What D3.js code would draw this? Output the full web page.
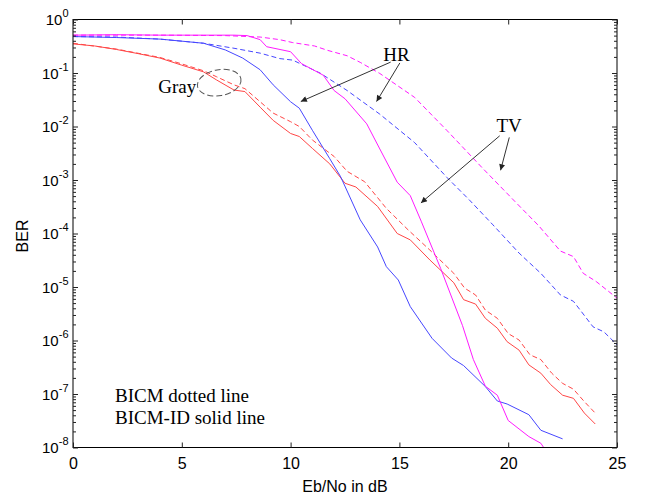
<!DOCTYPE html>
<html>
<head>
<meta charset="utf-8">
<script src="https://cdn.jsdelivr.net/npm/d3@7"></script>
<style>
  body { margin: 0; background: #fff; }
  svg { display: block; }
</style>
</head>
<body>
<div id="chart"></div>
<script>
// Eb/No (dB) and BER
const ebnoGrayId = [0, 1, 2, 3, 4, 5, 6, 6.6, 7.4, 7.9, 8.6, 9.2, 10, 10.4, 11, 11.8, 12.5, 13, 14, 14.9, 15.5, 16.4, 17.5, 17.95, 18.5, 18.95, 19.5, 19.95, 20.5, 20.95, 21.5, 21.95, 22.5, 23, 23.5, 24];
const berGrayId  = [0.35, 0.32, 0.275, 0.23, 0.19, 0.14, 0.105, 0.074, 0.048, 0.045, 0.023, 0.013, 0.0074, 0.0065, 0.0039, 0.002, 8.7e-4, 7.4e-4, 3.2e-4, 1e-4, 7.6e-5, 3.2e-5, 1.2e-5, 5.8e-6, 4.8e-6, 2.6e-6, 1.7e-6, 9.5e-7, 6.6e-7, 3.5e-7, 2.45e-7, 1.5e-7, 9.5e-8, 8.3e-8, 4.4e-8, 2.75e-8];

const ebnoGray = [0, 2, 4, 5, 6, 6.6, 7.4, 7.9, 8.6, 9.2, 10, 10.4, 11, 12, 12.6, 13.4, 14.4, 15.4, 16.4, 17.5, 18, 18.5, 18.95, 19.5, 20, 20.5, 21, 21.5, 22, 22.5, 23, 23.5, 24];
const berGray  = [0.36, 0.28, 0.195, 0.148, 0.11, 0.085, 0.06, 0.051, 0.029, 0.0178, 0.0123, 0.01, 0.0056, 0.00275, 0.00145, 9.3e-4, 2.95e-4, 1.17e-4, 4.9e-5, 1.8e-5, 9.5e-6, 7.1e-6, 3.7e-6, 2.6e-6, 1.35e-6, 1.02e-6, 5.4e-7, 4.4e-7, 2.45e-7, 1.58e-7, 1.23e-7, 7.2e-8, 4.4e-8];

const ebnoHrId = [0, 2, 4, 6, 7, 7.8, 8.6, 9.2, 10, 10.4, 11, 11.8, 12.3, 13.2, 14, 14.4, 14.95, 15.5, 16.5, 17.4, 17.95, 18.95, 19.5, 19.95, 20.95, 21.5, 22.5];
const berHrId  = [0.48, 0.46, 0.43, 0.36, 0.27, 0.19, 0.115, 0.06, 0.029, 0.022, 0.0085, 0.0025, 0.00115, 1.8e-4, 5.6e-5, 2.4e-5, 1.35e-5, 4.3e-6, 1.1e-6, 4.7e-7, 3.4e-7, 1.38e-7, 7.4e-8, 6.5e-8, 4.1e-8, 2.1e-8, 1.45e-8];

const ebnoHr = [0, 2, 4, 6, 7.4, 8.6, 9.5, 10.1, 11.35, 12.6, 14.1, 15.7, 17.2, 18.2, 19.3, 20.5, 21.5, 22.4, 23, 23.9, 24.4, 25];
const berHr  = [0.48, 0.47, 0.43, 0.36, 0.29, 0.235, 0.186, 0.174, 0.1, 0.047, 0.017, 0.005, 0.0011, 4.3e-4, 1.45e-4, 4.3e-5, 1.8e-5, 7.1e-6, 5.4e-6, 1.8e-6, 1.45e-6, 8.3e-7];

const ebnoTvId = [0, 2, 4, 6, 7.4, 8, 8.6, 8.9, 10, 10.5, 11.5, 12, 12.5, 13.5, 14.1, 14.9, 15.5, 16, 16.9, 17.9, 18.4, 18.95, 19.5, 20, 20.95, 21.5, 21.8];
const berTvId  = [0.51, 0.52, 0.51, 0.51, 0.51, 0.5, 0.42, 0.31, 0.25, 0.15, 0.091, 0.047, 0.033, 0.0112, 0.0038, 9.1e-4, 5.1e-4, 1.7e-4, 2.2e-5, 1.9e-6, 4.4e-7, 1.4e-7, 9.5e-8, 3.2e-8, 1.6e-8, 1.2e-8, 7.9e-9];

const ebnoTv = [0, 4, 7, 8.6, 9.5, 10.1, 11.1, 11.7, 12.6, 13.2, 14.1, 15.7, 17.2, 18.8, 20.3, 21.4, 22.4, 23, 23.45, 24.05, 25];
const berTv  = [0.51, 0.51, 0.5, 0.47, 0.42, 0.37, 0.32, 0.265, 0.21, 0.158, 0.098, 0.035, 0.0083, 0.0017, 4e-4, 1.4e-4, 4.7e-5, 3.7e-5, 1.8e-5, 1.26e-5, 6.2e-6];

const xTicks = [0, 5, 10, 15, 20, 25];
const yExponents = [0, -1, -2, -3, -4, -5, -6, -7, -8];

const series = [
  { name: "Gray BICM-ID", x: ebnoGrayId, y: berGrayId, color: "#ff4646", dash: null },
  { name: "Gray BICM",    x: ebnoGray,   y: berGray,   color: "#ff4646", dash: "5,3" },
  { name: "HR BICM-ID",   x: ebnoHrId,   y: berHrId,   color: "#4646ff", dash: null },
  { name: "HR BICM",      x: ebnoHr,     y: berHr,     color: "#4646ff", dash: "5,3" },
  { name: "TV BICM-ID",   x: ebnoTvId,   y: berTvId,   color: "#ff1aff", dash: null },
  { name: "TV BICM",      x: ebnoTv,     y: berTv,     color: "#ff1aff", dash: "5,3" }
];

// annotation anchors in data units [Eb/No, BER]
const arrows = [
  [[14.6, 0.16], [10.47, 0.0293]],
  [[15.02, 0.154], [13.95, 0.0293]],
  [[19.61, 0.0067], [15.99, 3.73e-4]],
  [[20.05, 0.00625], [19.65, 0.00152]]
];
const labels = [
  { text: "HR", at: [14.26, 0.168] },
  { text: "TV", at: [19.46, 0.00776] },
  { text: "Gray", at: [3.92, 0.0418] },
  { text: "BICM dotted line", at: [1.93, 7.2e-8] },
  { text: "BICM-ID solid line", at: [1.93, 2.7e-8] }
];
const grayEllipse = [6.72, 0.0659];

const W = 645, H = 496;
const margin = { top: 19.5, right: 28, bottom: 48.5, left: 73 };
const width = W - margin.left - margin.right;
const height = H - margin.top - margin.bottom;

const svg = d3.select("#chart").append("svg")
  .attr("width", W).attr("height", H);

svg.append("defs").append("clipPath").attr("id", "plotclip")
  .append("rect").attr("width", width).attr("height", height);

const marker = svg.select("defs").append("marker")
  .attr("id", "arrowhead")
  .attr("viewBox", "0 0 10 10")
  .attr("refX", 10).attr("refY", 5)
  .attr("markerWidth", 9).attr("markerHeight", 6)
  .attr("markerUnits", "userSpaceOnUse")
  .attr("orient", "auto");
marker.append("path").attr("d", "M0,0 L10,5 L0,10 z").attr("fill", "#222");

const g = svg.append("g")
  .attr("transform", "translate(" + margin.left + "," + margin.top + ")");

const x = d3.scaleLinear().domain([0, 25]).range([0, width]);
const y = d3.scaleLog().domain([1e-8, 1]).range([height, 0]);

const majorY = yExponents.map(e => Math.pow(10, e));
const minorY = y.ticks().filter(v => !majorY.some(m => Math.abs(v / m - 1) < 1e-9));

// lines
const line = d3.line().x(d => x(d[0])).y(d => y(d[1]));
g.append("g").attr("clip-path", "url(#plotclip)")
  .selectAll("path")
  .data(series)
  .enter()
  .append("path")
  .attr("d", s => line(s.x.map((v, i) => [v, s.y[i]])))
  .attr("fill", "none")
  .attr("stroke", s => s.color)
  .attr("stroke-width", 1)
  .attr("stroke-dasharray", s => s.dash);

// box
g.append("rect").attr("width", width).attr("height", height)
  .attr("fill", "none").attr("stroke", "#000").attr("stroke-width", 1);

function styleAxis(sel) {
  sel.select(".domain").remove();
  sel.selectAll(".tick line").attr("stroke", "#222");
}

// x axes (ticks inward)
g.append("g").attr("transform", "translate(0," + height + ")")
  .call(d3.axisBottom(x).tickValues(xTicks).tickSize(-5).tickPadding(10).tickFormat(d3.format("d")))
  .call(styleAxis)
  .call(s => s.selectAll("text").attr("font-family", "Liberation Sans, Arial, sans-serif")
    .attr("font-size", 16).attr("fill", "#000"));
g.append("g")
  .call(d3.axisTop(x).tickValues(xTicks).tickSize(-5).tickFormat(""))
  .call(styleAxis);

// y axes: major + minor ticks inward
g.append("g").call(d3.axisLeft(y).tickValues(majorY).tickSize(-5).tickFormat("")).call(styleAxis);
g.append("g").call(d3.axisLeft(y).tickValues(minorY).tickSize(-3).tickFormat("")).call(styleAxis);
g.append("g").attr("transform", "translate(" + width + ",0)")
  .call(d3.axisRight(y).tickValues(majorY).tickSize(-5).tickFormat("")).call(styleAxis);
g.append("g").attr("transform", "translate(" + width + ",0)")
  .call(d3.axisRight(y).tickValues(minorY).tickSize(-3).tickFormat("")).call(styleAxis);

// y tick labels as 10^n
const yl = g.append("g").selectAll("text")
  .data(yExponents)
  .enter()
  .append("text")
  .attr("x", -4.5)
  .attr("y", e => y(Math.pow(10, e)) + 5.5)
  .attr("text-anchor", "end")
  .attr("font-family", "Liberation Sans, Arial, sans-serif")
  .attr("fill", "#000");
yl.append("tspan").attr("font-size", 15).text("10");
yl.append("tspan").attr("font-size", 11).attr("dy", -8).text(e => e);

// axis titles
g.append("text")
  .text("Eb/No in dB")
  .attr("x", width / 2).attr("y", height + 44.5)
  .attr("text-anchor", "middle")
  .attr("font-family", "Liberation Sans, Arial, sans-serif")
  .attr("font-size", 16);
g.append("text")
  .text("BER")
  .attr("transform", "rotate(-90)")
  .attr("x", -(236 - margin.top)).attr("y", 28 - margin.left)
  .attr("text-anchor", "middle")
  .attr("font-family", "Liberation Sans, Arial, sans-serif")
  .attr("font-size", 16);

// annotations
g.selectAll(".arrow")
  .data(arrows)
  .enter()
  .append("line")
  .attr("class", "arrow")
  .attr("x1", d => x(d[0][0])).attr("y1", d => y(d[0][1]))
  .attr("x2", d => x(d[1][0])).attr("y2", d => y(d[1][1]))
  .attr("stroke", "#333").attr("stroke-width", 1)
  .attr("marker-end", "url(#arrowhead)");

g.selectAll(".note")
  .data(labels)
  .enter()
  .append("text")
  .attr("class", "note")
  .attr("x", d => x(d.at[0])).attr("y", d => y(d.at[1]))
  .attr("font-family", "Liberation Serif, Times New Roman, serif")
  .attr("font-size", 19)
  .attr("fill", "#000")
  .text(d => d.text);

g.append("ellipse")
  .attr("transform", "translate(" + x(grayEllipse[0]) + "," + y(grayEllipse[1]) + ") rotate(-10)")
  .attr("rx", 22).attr("ry", 13)
  .attr("fill", "none")
  .attr("stroke", "#555")
  .attr("stroke-width", 1)
  .attr("stroke-dasharray", "6,3");
</script>
</body>
</html>
